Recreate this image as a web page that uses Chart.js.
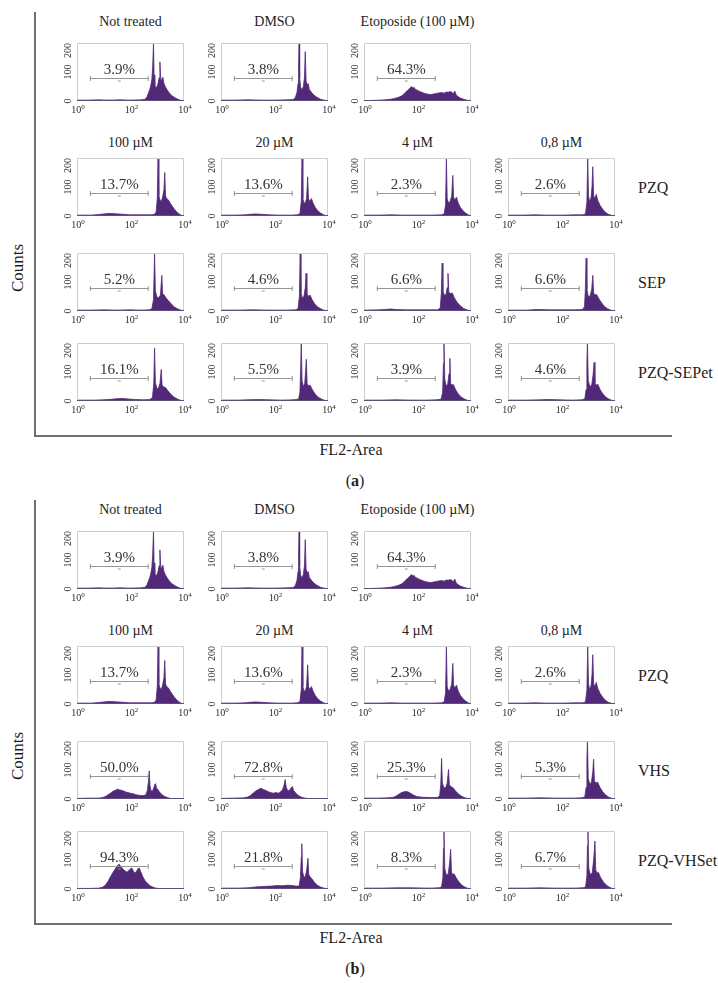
<!DOCTYPE html>
<html>
<head>
<meta charset="utf-8">
<script src="https://cdn.jsdelivr.net/npm/chart.js@4.4.0/dist/chart.umd.min.js"></script>
<style>
  body { margin: 0; background: #fff; }
  #fig { position: relative; width: 718px; height: 983px; font-family: 'Liberation Serif', 'Times New Roman', serif; color: #1e1e1e; }
  #fig canvas { position: absolute; }
  .lbl { position: absolute; white-space: nowrap; transform: translate(-50%, -50%); }
  .row { position: absolute; white-space: nowrap; transform: translateY(-50%); font-size: 16px; }
  .frame { position: absolute; border-left: 2px solid #707070; border-bottom: 2px solid #707070; }
</style>
</head>
<body>
<div id="fig"></div>
<script>
// column / row titles
const topTitles = ['Not treated', 'DMSO', 'Etoposide (100 µM)'];
const doseTitles = ['100 µM', '20 µM', '4 µM', '0,8 µM'];
const rowLabelsA = ['PZQ', 'SEP', 'PZQ-SEPet'];
const rowLabelsB = ['PZQ', 'VHS', 'PZQ-VHSet'];

// gated percentage (sub-G1) for each histogram
const pctA = [
  ['3.9%', '3.8%', '64.3%'],
  ['13.7%', '13.6%', '2.3%', '2.6%'],
  ['5.2%', '4.6%', '6.6%', '6.6%'],
  ['16.1%', '5.5%', '3.9%', '4.6%']
];
const pctB = [
  ['3.9%', '3.8%', '64.3%'],
  ['13.7%', '13.6%', '2.3%', '2.6%'],
  ['50.0%', '72.8%', '25.3%', '5.3%'],
  ['94.3%', '21.8%', '8.3%', '6.7%']
];

// axis ticks (x axis in log10 units of FL2-Area)
const xTicks = [0, 2, 4];
const yTicks = [0, 100, 200];
const gateRange = [0.48, 2.68];
const gateLevel = 78;

// histograms: [log10(FL2-Area), counts]
const hNotTreated = [[0,3],[0.4,3],[0.8,4],[1.2,3],[1.6,4],[2.0,3],[2.4,4],[2.55,6],[2.62,15],[2.68,30],[2.72,40],[2.76,55],[2.8,75],[2.83,120],[2.86,200],[2.88,90],[2.91,55],[2.95,45],[2.99,50],[3.03,60],[3.07,80],[3.1,135],[3.13,70],[3.17,75],[3.21,82],[3.25,60],[3.3,50],[3.36,40],[3.45,28],[3.55,18],[3.65,12],[3.75,7],[3.85,3],[3.95,1],[4,0]];
const hDMSO = [[0,3],[0.5,3],[1,4],[1.5,3],[2,3],[2.5,4],[2.7,5],[2.78,12],[2.84,30],[2.88,60],[2.9,120],[2.92,200],[2.94,80],[2.98,45],[3.03,40],[3.08,50],[3.12,80],[3.15,170],[3.18,70],[3.22,55],[3.26,60],[3.3,40],[3.38,30],[3.48,20],[3.6,12],[3.72,6],[3.85,3],[3.95,1],[4,0]];
const hEtoposide = [[0,1],[0.3,2],[0.6,3],[0.8,4],[1.0,6],[1.15,9],[1.3,13],[1.4,17],[1.5,25],[1.58,33],[1.65,38],[1.72,45],[1.78,50],[1.82,44],[1.87,47],[1.92,40],[2.0,37],[2.08,33],[2.16,30],[2.24,27],[2.32,25],[2.4,23],[2.5,22],[2.6,24],[2.7,26],[2.8,28],[2.9,29],[3.0,27],[3.08,31],[3.15,30],[3.22,33],[3.28,30],[3.34,26],[3.4,34],[3.44,22],[3.5,16],[3.6,10],[3.7,7],[3.8,4],[3.9,2],[4,0]];
const hPzq100 = [[0,3],[0.5,3],[0.8,5],[1.0,7],[1.2,9],[1.4,8],[1.7,6],[2.0,4],[2.4,4],[2.8,4],[2.9,6],[2.96,15],[3.0,60],[3.03,200],[3.06,70],[3.1,55],[3.15,50],[3.2,65],[3.25,90],[3.28,150],[3.31,70],[3.35,60],[3.42,55],[3.48,45],[3.55,35],[3.65,22],[3.75,12],[3.85,5],[3.93,1],[4,0]];
const hPzq20 = [[0,3],[0.5,3],[0.9,4],[1.1,6],[1.3,7],[1.5,6],[1.8,4],[2.2,3],[2.6,3],[2.85,4],[2.95,8],[3.0,50],[3.03,200],[3.06,60],[3.1,45],[3.15,45],[3.2,60],[3.24,135],[3.27,60],[3.32,50],[3.38,60],[3.44,45],[3.52,30],[3.62,18],[3.72,10],[3.82,5],[3.92,1],[4,0]];
const hPzq4 = [[0,3],[0.5,3],[1,4],[1.5,3],[2,3],[2.5,3],[2.9,4],[3.0,8],[3.05,40],[3.08,200],[3.11,60],[3.16,45],[3.22,50],[3.28,70],[3.32,140],[3.35,65],[3.4,55],[3.46,65],[3.52,45],[3.6,30],[3.7,18],[3.8,10],[3.9,4],[4,0]];
const hPzq08 = [[0,3],[0.5,3],[1,4],[1.5,3],[2,3],[2.5,4],[2.8,4],[2.9,8],[2.95,50],[2.98,200],[3.01,70],[3.05,50],[3.1,60],[3.14,100],[3.17,170],[3.2,70],[3.25,60],[3.3,75],[3.35,55],[3.45,35],[3.55,22],[3.65,12],[3.75,6],[3.85,3],[3.93,1],[4,0]];

const hSep100 = [[0,3],[0.5,3],[1,4],[1.5,3],[2,4],[2.4,3],[2.7,4],[2.8,8],[2.86,40],[2.9,200],[2.93,70],[2.98,50],[3.05,45],[3.12,55],[3.17,123],[3.2,60],[3.26,55],[3.33,45],[3.42,35],[3.52,25],[3.62,15],[3.75,8],[3.88,3],[3.97,1],[4,0]];
const hSep20 = [[0,3],[0.6,3],[1.2,4],[1.8,3],[2.4,3],[2.8,4],[2.88,8],[2.93,50],[2.96,200],[2.99,65],[3.04,45],[3.1,50],[3.15,80],[3.18,130],[3.21,60],[3.27,50],[3.33,55],[3.4,40],[3.5,25],[3.6,15],[3.72,8],[3.85,3],[3.95,1],[4,0]];
const hSep4 = [[0,3],[0.6,4],[0.9,6],[1.0,7],[1.2,5],[1.6,4],[2.0,4],[2.4,4],[2.75,4],[2.85,10],[2.89,60],[2.92,165],[2.95,70],[3.0,55],[3.06,55],[3.11,80],[3.14,130],[3.17,65],[3.23,60],[3.3,62],[3.38,45],[3.48,30],[3.6,18],[3.72,9],[3.85,4],[3.95,1],[4,0]];
const hSep08 = [[0,3],[0.7,3],[1.0,5],[1.2,5],[1.5,4],[2,4],[2.5,4],[2.78,5],[2.86,15],[2.89,70],[2.92,182],[2.95,75],[3.0,50],[3.07,52],[3.13,75],[3.17,123],[3.2,62],[3.25,55],[3.31,57],[3.4,42],[3.5,28],[3.6,16],[3.72,8],[3.85,3],[3.95,1],[4,0]];

const hPzqSep100 = [[0,3],[0.6,3],[1.0,4],[1.3,6],[1.5,8],[1.7,9],[1.9,7],[2.2,5],[2.5,4],[2.72,5],[2.82,12],[2.87,60],[2.9,182],[2.93,65],[2.98,45],[3.04,42],[3.1,60],[3.15,109],[3.18,55],[3.24,48],[3.3,47],[3.4,35],[3.5,24],[3.62,14],[3.75,7],[3.88,2],[4,0]];
const hPzqSep20 = [[0,3],[0.6,3],[1.0,4],[1.4,5],[1.8,4],[2.3,3],[2.7,4],[2.9,6],[2.95,30],[2.98,120],[3.0,200],[3.03,70],[3.08,50],[3.13,60],[3.16,100],[3.19,144],[3.22,60],[3.27,52],[3.33,55],[3.42,38],[3.52,24],[3.62,14],[3.75,7],[3.88,2],[4,0]];
const hPzqSep4 = [[0,3],[0.6,3],[1.2,4],[1.8,3],[2.3,3],[2.7,4],[2.88,6],[2.94,30],[2.97,130],[2.99,200],[3.02,75],[3.07,52],[3.13,58],[3.18,95],[3.21,147],[3.24,60],[3.29,55],[3.34,57],[3.42,40],[3.52,25],[3.63,14],[3.75,7],[3.88,2],[4,0]];
const hPzqSep08 = [[0,3],[0.6,3],[1.2,4],[1.5,5],[1.9,4],[2.4,3],[2.75,4],[2.87,7],[2.92,40],[2.95,140],[2.97,200],[3.0,70],[3.06,50],[3.13,55],[3.18,90],[3.22,133],[3.25,60],[3.3,55],[3.36,57],[3.45,38],[3.55,24],[3.66,13],[3.78,6],[3.9,2],[4,0]];

const hVhs100 = [[0,2],[0.5,3],[0.8,3],[0.95,5],[1.05,8],[1.15,14],[1.25,20],[1.35,27],[1.45,31],[1.52,34],[1.6,31],[1.7,29],[1.8,25],[1.9,22],[2.0,20],[2.1,18],[2.2,15],[2.3,13],[2.4,12],[2.5,12],[2.58,15],[2.63,30],[2.67,60],[2.7,97],[2.73,45],[2.77,28],[2.82,27],[2.87,38],[2.91,50],[2.94,53],[2.97,38],[3.02,33],[3.08,25],[3.15,17],[3.25,10],[3.35,6],[3.45,3],[3.55,1],[4,0]];
const hVhs20 = [[0,2],[0.5,3],[0.85,4],[1.0,7],[1.1,12],[1.2,20],[1.3,28],[1.4,33],[1.5,37],[1.58,33],[1.66,30],[1.75,26],[1.85,22],[1.95,20],[2.05,22],[2.15,20],[2.22,24],[2.3,32],[2.35,45],[2.4,67],[2.44,40],[2.5,28],[2.56,30],[2.62,38],[2.67,43],[2.71,30],[2.78,22],[2.86,14],[2.95,9],[3.05,5],[3.15,3],[3.3,1],[4,0]];
const hVhs4 = [[0,3],[0.5,3],[0.9,4],[1.1,6],[1.2,10],[1.3,16],[1.4,22],[1.5,25],[1.6,26],[1.7,22],[1.8,16],[1.9,11],[2.0,8],[2.2,6],[2.5,5],[2.75,5],[2.83,12],[2.87,50],[2.9,140],[2.93,55],[2.98,40],[3.05,38],[3.11,55],[3.16,102],[3.19,50],[3.25,42],[3.32,40],[3.4,30],[3.5,20],[3.62,11],[3.75,5],[3.88,2],[4,0]];
const hVhs08 = [[0,3],[0.6,3],[1.2,4],[1.8,3],[2.4,3],[2.75,4],[2.87,7],[2.92,40],[2.95,140],[2.97,200],[3.0,70],[3.06,52],[3.12,58],[3.17,95],[3.2,137],[3.23,62],[3.28,55],[3.35,58],[3.44,40],[3.54,25],[3.65,14],[3.77,6],[3.9,2],[4,0]];

const hPzqVhs100 = [[0,2],[0.5,2],[0.8,3],[0.95,6],[1.05,12],[1.15,25],[1.25,42],[1.35,58],[1.45,72],[1.52,82],[1.58,85],[1.64,78],[1.72,68],[1.8,62],[1.87,58],[1.94,64],[2.0,70],[2.05,72],[2.1,63],[2.16,55],[2.22,60],[2.28,70],[2.33,72],[2.38,60],[2.46,42],[2.55,28],[2.65,18],[2.75,10],[2.85,6],[2.95,3],[3.1,1],[3.3,0],[4,0]];
const hPzqVhs20 = [[0,3],[0.6,3],[1.0,4],[1.3,7],[1.6,9],[1.9,10],[2.1,12],[2.3,11],[2.5,13],[2.65,12],[2.8,10],[2.92,10],[2.97,40],[3.0,110],[3.02,156],[3.05,60],[3.1,40],[3.16,45],[3.21,70],[3.25,106],[3.28,50],[3.33,42],[3.4,35],[3.5,22],[3.6,13],[3.72,7],[3.85,3],[3.97,1],[4,0]];
const hPzqVhs4 = [[0,3],[0.6,3],[1.2,4],[1.8,4],[2.4,3],[2.8,4],[2.9,7],[2.95,40],[2.97,140],[2.99,200],[3.02,70],[3.08,48],[3.15,52],[3.2,90],[3.24,137],[3.27,58],[3.32,50],[3.37,52],[3.45,38],[3.55,24],[3.66,13],[3.78,6],[3.9,2],[4,0]];
const hPzqVhs08 = [[0,3],[0.6,3],[1.2,4],[1.8,3],[2.4,3],[2.8,4],[2.9,7],[2.95,45],[2.97,150],[2.99,200],[3.02,70],[3.08,50],[3.15,55],[3.21,110],[3.25,165],[3.28,65],[3.33,55],[3.38,57],[3.46,40],[3.56,25],[3.67,14],[3.79,6],[3.9,2],[4,0]];

const histA = [
  [hNotTreated, hDMSO, hEtoposide],
  [hPzq100, hPzq20, hPzq4, hPzq08],
  [hSep100, hSep20, hSep4, hSep08],
  [hPzqSep100, hPzqSep20, hPzqSep4, hPzqSep08]
];
const histB = [
  [hNotTreated, hDMSO, hEtoposide],
  [hPzq100, hPzq20, hPzq4, hPzq08],
  [hVhs100, hVhs20, hVhs4, hVhs08],
  [hPzqVhs100, hPzqVhs20, hPzqVhs4, hPzqVhs08]
];

// ---- layout ----
const FONT = "'Liberation Serif', 'Times New Roman', serif";
const PURPLE = '#522879';
const COL_X = [77, 221, 364, 508];
const ROW_Y = [43, 158, 253, 343];
const BOX_W = 107, BOX_H = 58;
const PAD = { left: 24, top: 6, right: 12, bottom: 18 };
const fig = document.getElementById('fig');

const histPlugin = {
  id: 'histDeco',
  afterDatasetsDraw(chart) {
    const { ctx, chartArea: a, scales } = chart;
    const pct = chart.options.plugins.histDeco.pct;
    ctx.save();
    // box
    ctx.strokeStyle = '#cdcdcd';
    ctx.lineWidth = 1;
    ctx.beginPath();
    ctx.moveTo(a.left + 0.5, a.bottom);
    ctx.lineTo(a.left + 0.5, a.top + 0.5);
    ctx.lineTo(a.right - 0.5, a.top + 0.5);
    ctx.lineTo(a.right - 0.5, a.bottom);
    ctx.stroke();
    ctx.strokeStyle = '#5f4f78';
    ctx.beginPath();
    ctx.moveTo(a.left, a.bottom - 0.5);
    ctx.lineTo(a.right, a.bottom - 0.5);
    ctx.stroke();
    // gate marker
    const gy = Math.round(scales.y.getPixelForValue(gateLevel)) + 0.5;
    const gx0 = scales.x.getPixelForValue(gateRange[0]);
    const gx1 = scales.x.getPixelForValue(gateRange[1]);
    const gxm = (gx0 + gx1) / 2;
    ctx.strokeStyle = '#959595';
    ctx.beginPath();
    ctx.moveTo(gx0, gy); ctx.lineTo(gx1, gy);
    ctx.moveTo(gx0 + 0.5, gy - 2.5); ctx.lineTo(gx0 + 0.5, gy + 2.5);
    ctx.moveTo(gx1 - 0.5, gy - 2.5); ctx.lineTo(gx1 - 0.5, gy + 2.5);
    ctx.moveTo(gxm - 1.5, gy + 2.5); ctx.lineTo(gxm + 1.5, gy + 2.5);
    ctx.stroke();
    ctx.fillStyle = '#333';
    ctx.font = '15px ' + FONT;
    ctx.textAlign = 'center';
    ctx.textBaseline = 'alphabetic';
    ctx.fillText(pct, gxm, gy - 5);
    // y ticks (rotated)
    ctx.fillStyle = '#2a2a2a';
    ctx.font = '10px ' + FONT;
    ctx.textBaseline = 'middle';
    yTicks.forEach(v => {
      const label = String(v);
      const w = ctx.measureText(label).width;
      let cy = scales.y.getPixelForValue(v);
      cy = Math.max(cy, a.top + w / 2);
      ctx.save();
      ctx.translate(a.left - 9, cy);
      ctx.rotate(-Math.PI / 2);
      ctx.fillText(label, 0, 0);
      ctx.restore();
    });
    // x ticks 10^n
    xTicks.forEach(v => {
      const x = scales.x.getPixelForValue(v);
      ctx.font = '10px ' + FONT;
      const wb = ctx.measureText('10').width;
      ctx.font = '7px ' + FONT;
      const we = ctx.measureText(String(v)).width;
      const x0 = x - (wb + we) / 2 + 1;
      ctx.textAlign = 'left';
      ctx.textBaseline = 'alphabetic';
      ctx.font = '10px ' + FONT;
      ctx.fillText('10', x0, a.bottom + 12);
      ctx.font = '7px ' + FONT;
      ctx.fillText(String(v), x0 + wb, a.bottom + 8);
    });
    ctx.restore();
  }
};

function addText(cls, text, x, y, style) {
  const d = document.createElement('div');
  d.className = cls;
  d.textContent = text;
  d.style.left = x + 'px';
  d.style.top = y + 'px';
  Object.assign(d.style, style || {});
  fig.appendChild(d);
  return d;
}

function makeHist(panelTop, r, c, pts, pct) {
  const cv = document.createElement('canvas');
  cv.width = BOX_W + PAD.left + PAD.right;
  cv.height = BOX_H + PAD.top + PAD.bottom;
  cv.style.left = (COL_X[c] - PAD.left) + 'px';
  cv.style.top = (panelTop + ROW_Y[r] - PAD.top) + 'px';
  fig.appendChild(cv);
  new Chart(cv, {
    type: 'line',
    data: {
      datasets: [{
        data: pts.map(p => ({ x: p[0], y: p[1] })),
        fill: 'origin',
        backgroundColor: PURPLE,
        borderColor: PURPLE,
        borderWidth: 0.8,
        pointRadius: 0,
        tension: 0
      }]
    },
    options: {
      responsive: false,
      animation: false,
      events: [],
      layout: { padding: PAD },
      scales: {
        x: { type: 'linear', min: 0, max: 4, display: false },
        y: { min: 0, max: 200, display: false }
      },
      plugins: {
        legend: { display: false },
        tooltip: { enabled: false },
        histDeco: { pct: pct }
      }
    },
    plugins: [histPlugin]
  });
}

function makePanel(panelTop, hists, pcts, rowLabels, letter) {
  const fr = document.createElement('div');
  fr.className = 'frame';
  fr.style.left = '34px';
  fr.style.top = (panelTop + 12) + 'px';
  fr.style.width = '636px';
  fr.style.height = '423px';
  fig.appendChild(fr);

  hists.forEach((row, r) => row.forEach((pts, c) => makeHist(panelTop, r, c, pts, pcts[r][c])));

  topTitles.forEach((t, c) => addText('lbl', t, COL_X[c] + BOX_W / 2, panelTop + 22, { fontSize: '14px' }));
  doseTitles.forEach((t, c) => addText('lbl', t, COL_X[c] + BOX_W / 2, panelTop + 143, { fontSize: '14px' }));
  rowLabels.forEach((t, i) => addText('row', t, 638, panelTop + ROW_Y[i + 1] + 30));

  addText('lbl', 'Counts', 18, panelTop + 268, { fontSize: '17px', transform: 'translate(-50%, -50%) rotate(-90deg)' });
  addText('lbl', 'FL2-Area', 351, panelTop + 450, { fontSize: '16px' });
  const p = addText('lbl', '', 355, panelTop + 481, { fontSize: '16px' });
  p.innerHTML = '(<b>' + letter + '</b>)';
}

makePanel(0, histA, pctA, rowLabelsA, 'a');
makePanel(488, histB, pctB, rowLabelsB, 'b');
</script>
</body>
</html>
